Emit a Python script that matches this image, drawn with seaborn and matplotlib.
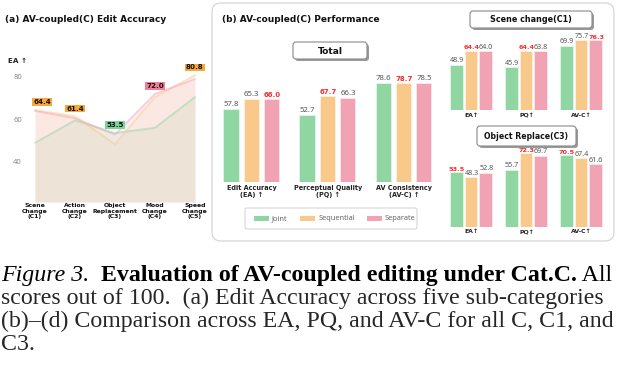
import matplotlib
matplotlib.use("Agg")
import matplotlib.pyplot as plt
import seaborn as sns
import pandas as pd
import numpy as np
from matplotlib.patches import FancyBboxPatch, Rectangle

sns.set_theme(style="white")
plt.rcParams['font.family'] = ['Noto Sans', 'DejaVu Sans']
BOLD = ['DejaVu Sans']

# ---------------- data ----------------
methods = ["Joint", "Sequential", "Separate"]
colors = ["#8fd6a3", "#f9c98b", "#f2a3b3"]
label_box_colors = ["#7dd398", "#f6a93a", "#ee7f97"]

subcats = ["Scene\nChange\n(C1)", "Action\nChange\n(C2)", "Object\nReplacement\n(C3)",
           "Mood\nChange\n(C4)", "Speed\nChange\n(C5)"]
ea_joint = [48.9, 59.5, 53.5, 56.0, 70.5]
ea_seq = [64.4, 61.4, 48.3, 70.5, 80.8]
ea_sep = [64.0, 60.5, 52.8, 72.0, 79.0]
a_yticks = [40, 60, 80]

metrics_total = ["Edit Accuracy\n(EA) \u2191", "Perceptual Quality\n(PQ) \u2191", "AV Consistency\n(AV-C) \u2191"]
total_joint = [57.8, 52.7, 78.6]
total_seq = [65.3, 67.7, 78.7]
total_sep = [66.0, 66.3, 78.5]

metrics_short = ["EA\u2191", "PQ\u2191", "AV-C\u2191"]
c1_joint = [48.9, 45.9, 69.9]
c1_seq = [64.4, 64.4, 75.7]
c1_sep = [64.0, 63.8, 76.3]

c3_joint = [53.5, 55.7, 70.5]
c3_seq = [48.3, 72.3, 67.4]
c3_sep = [52.8, 69.7, 61.6]

W, H = 619, 366
fig = plt.figure(figsize=(W / 100, H / 100), dpi=100)
fig.patch.set_facecolor("white")

def add_ax(x0, y0, x1, y1, z=2):
    ax = fig.add_axes([x0 / W, 1 - y1 / H, (x1 - x0) / W, (y1 - y0) / H], zorder=z)
    ax.patch.set_alpha(0)
    return ax

# overlay for frames / captions
ov = fig.add_axes([0, 0, 1, 1], zorder=0)
ov.set_xlim(0, W); ov.set_ylim(H, 0); ov.axis("off")

# big rounded frame
ov.add_patch(FancyBboxPatch((212, 3), 402, 238, boxstyle="round,pad=0,rounding_size=9",
                            fc="white", ec="#d6d6d6", lw=0.9))

def title_box(x0, y0, x1, y1, text, fs):
    ov.add_patch(FancyBboxPatch((x0 + 2, y0 + 2), x1 - x0, y1 - y0,
                                boxstyle="round,pad=0,rounding_size=3", fc="#9a9a9a", ec="none"))
    ov.add_patch(FancyBboxPatch((x0, y0), x1 - x0, y1 - y0,
                                boxstyle="round,pad=0,rounding_size=3", fc="white", ec="#8a8a8a", lw=0.8))
    ov.text((x0 + x1) / 2, (y0 + y1) / 2 + 0.5, text, ha="center", va="center",
            fontsize=fs, fontweight="bold", family=BOLD, color="#111111")

title_box(293, 42, 367, 59, "Total", 6.6)
title_box(470, 11, 592, 28, "Scene change(C1)", 5.8)
title_box(477, 126, 576, 146, "Object Replace(C3)", 5.6)

# titles
ov.text(5, 20, "(a) AV-coupled(C) Edit Accuracy", ha="left", va="center",
        fontsize=6.5, fontweight="bold", family=BOLD, color="#111111")
ov.text(222, 20, "(b) AV-coupled(C) Performance", ha="left", va="center",
        fontsize=6.5, fontweight="bold", family=BOLD, color="#111111")

# ---------------- panel (a) ----------------
axa = add_ax(31.8, 60, 198.2, 202)
xs = np.arange(len(subcats))
series = [ea_joint, ea_seq, ea_sep]
for vals, c in zip(series, colors):
    axa.fill_between(xs, 21, vals, color=c, alpha=0.16, lw=0)
for vals, c in zip(series, colors):
    sns.lineplot(x=xs, y=vals, color=c, lw=1.4, alpha=0.5, ax=axa)
axa.set_xlim(-0.08, 4.08)
axa.set_ylim(21, 88)
axa.set_yticks(a_yticks)
axa.set_yticklabels([str(t) for t in a_yticks], fontsize=5.5, color="#8a8a8a")
axa.tick_params(axis="y", length=0, pad=7)
axa.set_xticks([])
sns.despine(ax=axa, left=True, bottom=True)
axa.grid(False)
for i, lab in enumerate(subcats):
    axa.text(i, 20.3, lab, ha="center", va="top", fontsize=4.4, fontweight="bold", family=BOLD,
             color="#111111", linespacing=1.05, transform=axa.transData, clip_on=False)
ov.text(8, 61, "EA \u2191", ha="left", va="center", fontsize=5.2, fontweight="bold",
        family=BOLD, color="#222222")
for i in range(len(subcats)):
    vals = [s[i] for s in series]
    k = int(np.argmax(vals))
    xoff = 5 if i == 0 else 0
    axa.annotate(f"{vals[k]:.1f}", (i, vals[k]), xytext=(xoff, 3.5), textcoords="offset points",
                 ha="center", va="bottom", fontsize=5.1, fontweight="bold", family=BOLD,
                 color="#111111",
                 bbox=dict(boxstyle="square,pad=0.12", fc=label_box_colors[k], ec="none"))

# ---------------- bar panels ----------------
def bar_panel(x0, y0, x1, y1, xlim, ylim, cats, jv, sv, pv, fs_val, fs_tick, gap, base_line=False):
    ax = add_ax(x0, y0, x1, y1)
    df = pd.DataFrame({
        "metric": cats * 3,
        "method": [m for m in methods for _ in cats],
        "value": jv + sv + pv,
    })
    sns.barplot(data=df, x="metric", y="value", hue="method", hue_order=methods,
                order=cats, palette=colors, saturation=1, gap=gap, width=0.8,
                legend=False, ax=ax, errorbar=None)
    for cont, c in zip(ax.containers, colors):
        for p in cont.patches:
            rgb = matplotlib.colors.to_rgb(c)
            p.set_edgecolor(rgb + (0.35,))
            p.set_linewidth(1.2)
    data = [jv, sv, pv]
    for h, cont in enumerate(ax.containers):
        for i, p in enumerate(cont.patches):
            v = data[h][i]
            best = max(d[i] for d in data)
            xc = p.get_x() + p.get_width() / 2
            if v == best:
                ax.text(xc, v + 1.5, f"{v:.1f}", ha="center", va="bottom",
                        fontsize=fs_val * 0.9, color="#ff2a2a", fontweight="bold", family=BOLD)
            else:
                ax.text(xc, v + 1.5, f"{v:.1f}", ha="center", va="bottom",
                        fontsize=fs_val, color="#555555")
    ax.set_xlim(*xlim)
    ax.set_ylim(*ylim)
    ax.set_xlabel(""); ax.set_ylabel("")
    ax.set_yticks([])
    ax.set_xticks(range(len(cats)))
    ax.set_xticklabels(cats, fontsize=fs_tick, fontweight="bold", family=BOLD,
                       color="#222222", linespacing=1.3)
    ax.tick_params(axis="x", length=0, pad=2)
    sns.despine(ax=ax, left=True, bottom=True)
    ax.grid(False)
    if base_line:
        ax.axhline(0, color="#e2e2e2", lw=0.6, zorder=0)
    return ax

bar_panel(222, 69.5, 436, 182, (-0.39, 2.42), (0, 90), metrics_total,
          total_joint, total_seq, total_sep, 5.6, 4.7, 0.3, base_line=True)
bar_panel(443, 33, 609, 110, (-0.52, 2.5), (0, 85), metrics_short,
          c1_joint, c1_seq, c1_sep, 5.2, 4.4, 0.2)
bar_panel(443, 146.7, 609, 226.7, (-0.52, 2.5), (0, 80), metrics_short,
          c3_joint, c3_seq, c3_sep, 5.2, 4.4, 0.2)

# legend box
ov.add_patch(FancyBboxPatch((245, 208), 172, 21, boxstyle="round,pad=0,rounding_size=2",
                            fc="white", ec="#d0d0d0", lw=0.7))
leg_items = [(254, 272), (300, 319), (367, 385)]
for (px, tx), c, m in zip(leg_items, colors, methods):
    ov.add_patch(Rectangle((px, 216), 15, 5, fc=c, ec="none"))
    ov.text(tx, 218.7, m, ha="left", va="center", fontsize=5.3, color="#666666")

# ---------------- caption ----------------
cap_fs = 17.2
serif = ["Liberation Serif", "DejaVu Serif"]
renderer = fig.canvas.get_renderer()

def put_line(x, y, pieces):
    for txt, style, weight in pieces:
        t = ov.text(x, y, txt, ha="left", va="baseline", fontsize=cap_fs, family=serif,
                    fontstyle=style, fontweight=weight, color="black")
        bb = t.get_window_extent(renderer=renderer)
        x += bb.width  # pixels == data units

put_line(1, 281, [("Figure 3.", "italic", "normal"), ("  ", "normal", "normal"),
                  ("Evaluation of AV-coupled editing under Cat.C.", "normal", "bold"),
                  (" All", "normal", "normal")])
ov.text(1, 304, "scores out of 100.  (a) Edit Accuracy across five sub-categories",
        ha="left", va="baseline", fontsize=cap_fs, family=serif)
ov.text(1, 327, "(b)\u2013(d) Comparison across EA, PQ, and AV-C for all C, C1, and",
        ha="left", va="baseline", fontsize=cap_fs, family=serif)
ov.text(1, 350, "C3.", ha="left", va="baseline", fontsize=cap_fs, family=serif)

fig.savefig("out.png", dpi=100, facecolor="white")
